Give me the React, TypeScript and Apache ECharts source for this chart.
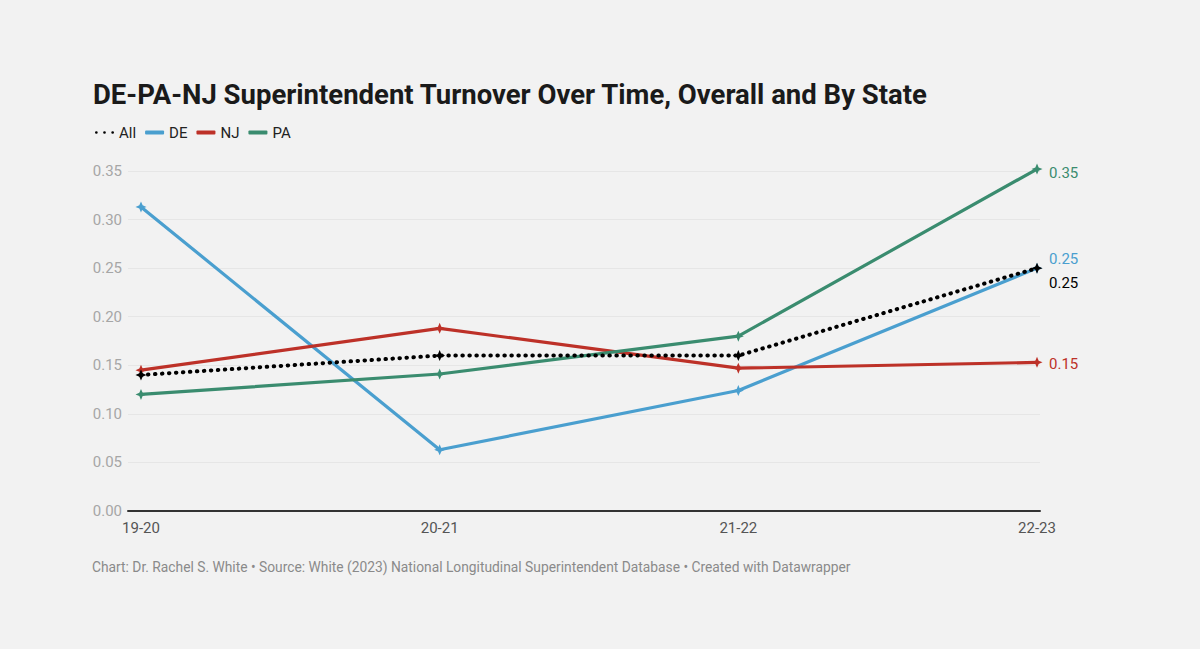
import React, { useEffect, useRef } from "react";
import * as echarts from "echarts";

const categories = ["19-20", "20-21", "21-22", "22-23"];
const allValues = [0.14, 0.16, 0.16, 0.25];
const deValues = [0.313, 0.063, 0.124, 0.25];
const njValues = [0.145, 0.188, 0.147, 0.153];
const paValues = [0.12, 0.141, 0.18, 0.352];
const yTicks = [0, 0.05, 0.1, 0.15, 0.2, 0.25, 0.3, 0.35];

const STAR = "path://M0,-10 L3,-3 L10,0 L3,3 L0,10 L-3,3 L-10,0 L-3,-3 Z";
const FONT = "Roboto, 'Noto Sans', sans-serif";

function makeSeries(name: string, values: number[], color: string, dotted: boolean, labelOffset: number[]) {
  return {
    name,
    type: "line",
    clip: false,
    data: values.map((v, i) => [i, v]),
    symbol: STAR,
    symbolSize: 11,
    showAllSymbol: true,
    itemStyle: { color },
    lineStyle: dotted
      ? { color, width: 4, type: [0.5, 6.5], cap: "round" }
      : { color, width: 3.2 },
    emphasis: { disabled: true },
    endLabel: {
      show: true,
      formatter: (p: any) => p.value[1].toFixed(2),
      color,
      fontFamily: FONT,
      fontSize: 15,
      distance: 12,
      offset: labelOffset,
    },
    z: dotted ? 5 : 3,
  };
}

export default function App() {
  const ref = useRef<HTMLDivElement>(null);
  useEffect(() => {
    const chart = echarts.init(ref.current!, null, { renderer: "svg" });
    const option: any = {
      animation: false,
      backgroundColor: "#f2f2f2",
      textStyle: { fontFamily: FONT },
      title: {
        text: "DE-PA-NJ Superintendent Turnover Over Time, Overall and By State",
        left: 88,
        top: 75,
        textStyle: { fontFamily: FONT, fontSize: 27.5, fontWeight: "bold", color: "#1a1a1a" },
      },
      legend: {
        left: 90,
        top: 120,
        itemGap: 9,
        itemWidth: 19,
        itemHeight: 4,
        textStyle: { fontFamily: FONT, fontSize: 15, color: "#222" },
        selectedMode: false,
        data: [
          { name: "All", icon: "path://M0,0 a1,1 0 1,0 2,0 a1,1 0 1,0 -2,0 Z M6,0 a1,1 0 1,0 2,0 a1,1 0 1,0 -2,0 Z M12,0 a1,1 0 1,0 2,0 a1,1 0 1,0 -2,0 Z" },
          { name: "DE", icon: "roundRect" },
          { name: "NJ", icon: "roundRect" },
          { name: "PA", icon: "roundRect" },
        ],
      },
      grid: { left: 128, right: 160, top: 171, bottom: 138, containLabel: false },
      xAxis: {
        type: "value",
        min: -0.0435,
        max: 3.01,
        axisLine: { show: true, onZero: false, lineStyle: { color: "#333", width: 2 } },
        axisTick: { show: false },
        splitLine: { show: false },
        axisLabel: {
          customValues: [0, 1, 2, 3],
          formatter: (v: number) => categories[Math.round(v)] ?? "",
          color: "#555",
          fontFamily: FONT,
          fontSize: 15,
          margin: 9,
        },
      },
      yAxis: {
        type: "value",
        min: 0,
        max: 0.35,
        interval: 0.05,
        axisLine: { show: false },
        axisTick: { show: false },
        splitLine: { show: true, lineStyle: { color: "#e6e6e6", width: 1 } },
        axisLabel: {
          customValues: yTicks,
          formatter: (v: number) => v.toFixed(2),
          color: "#a6a6a6",
          fontFamily: FONT,
          fontSize: 15,
          margin: 6,
        },
      },
      graphic: [
        {
          type: "text",
          left: 92,
          top: 560,
          style: {
            text: "Chart: Dr. Rachel S. White • Source: White (2023) National Longitudinal Superintendent Database • Created with Datawrapper",
            fill: "#8a8a8a",
            font: `13.8px ${FONT}`,
          },
        },
      ],
      series: [
        makeSeries("DE", deValues, "#4a9fcf", false, [0, -9]),
        makeSeries("NJ", njValues, "#bd3128", false, [0, 2]),
        makeSeries("PA", paValues, "#3a8c6f", false, [0, 4]),
        makeSeries("All", allValues, "#000000", true, [0, 15]),
      ],
    };
    chart.setOption(option);
    return () => chart.dispose();
  }, []);
  return (
    <div
      ref={ref}
      style={{ position: "fixed", left: 0, top: 0, width: 1200, height: 649 }}
    />
  );
}
